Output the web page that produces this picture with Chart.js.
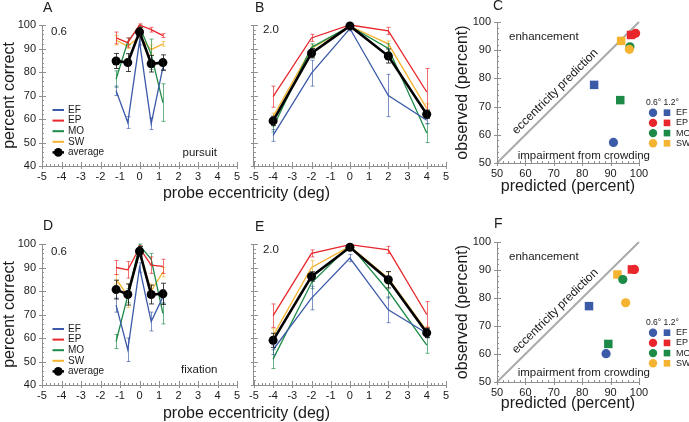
<!DOCTYPE html>
<html>
<head>
<meta charset="utf-8">
<script src="https://cdn.jsdelivr.net/npm/chart.js@4.4.1/dist/chart.umd.min.js"></script>
<style>
  html, body { margin: 0; padding: 0; background: #fff; }
  body { width: 689px; height: 422px; position: relative; overflow: hidden; font-family: "Liberation Sans", Arial, sans-serif; }
  canvas { position: absolute; }
  .xtitle { position: absolute; font-size: 16px; line-height: 16px; white-space: nowrap; transform: translate(-50%, -50%); color: #1a1a1a; }
</style>
</head>
<body>
<canvas id="a" width="245" height="203" style="left:0;top:0"></canvas>
<canvas id="b" width="208" height="203" style="left:245px;top:0"></canvas>
<canvas id="c" width="236" height="203" style="left:453px;top:0"></canvas>
<canvas id="d" width="245" height="212" style="left:0;top:210px"></canvas>
<canvas id="e" width="208" height="212" style="left:245px;top:210px"></canvas>
<canvas id="f" width="236" height="212" style="left:453px;top:210px"></canvas>
<div class="xtitle" style="left:246.5px;top:193px">probe eccentricity (deg)</div>
<div class="xtitle" style="left:246.5px;top:413px">probe eccentricity (deg)</div>
<script>
const FONT = '"Liberation Sans", Arial, Helvetica, sans-serif'
const AXIS = '#8f8f8f'
const INK = '#1a1a1a'

const subjects = ['EF', 'EP', 'MO', 'SW']
const colors = ['#3b5aa8', '#e8262b', '#1e8a48', '#f5b332']
const nearX = [-1.2, -0.6, 0, 0.6, 1.2]
const farX = [-4, -2, 0, 2, 4]

// A: pursuit, 0.6 deg spacing
const pursuitNear = [
  [72, 58.5, 93, 58, 82],
  [94.5, 92.5, 100, 98, 95.5],
  [77, 93, 99.5, 87.5, 67],
  [93.5, 91, 95, 89.5, 92]
]
const pursuitNearErr = [
  [2, 2.5, 1.5, 2.5, 1],
  [2.5, 2, 0.5, 1, 0.8],
  [3.5, 1.5, 0.5, 6.5, 8],
  [2, 1, 1, 2, 1]
]
const pursuitNearAvg = [84.7, 84, 97, 83.5, 84]
const pursuitNearAvgErr = [3.2, 3.8, 2, 3.5, 3.3]

// B: pursuit, 2.0 deg spacing
const pursuitFar = [
  [53, 79.5, 98.5, 70, 59.5],
  [69.5, 94.5, 100, 97.5, 71.5],
  [56.5, 90.5, 99.5, 90, 54],
  [61, 90, 99.5, 92, 64.5]
]
const pursuitFarErr = [
  [2.5, 5.5, 1, 9, 1.5],
  [4.5, 1.5, 0.5, 1.5, 10],
  [2, 1.5, 0.5, 2, 4],
  [1.5, 1.5, 0.5, 1.2, 2]
]
const pursuitFarAvg = [59.2, 88, 99.6, 86.8, 62]
const pursuitFarAvgErr = [2, 2, 0.5, 3, 1.8]

// D: fixation, 0.6 deg spacing
const fixationNear = [
  [74, 55, 90, 67, 77.5],
  [90, 89, 98.3, 91, 90.5],
  [58.5, 78, 99.5, 93.5, 70.5],
  [85, 78, 97, 80, 88]
]
const fixationNearErr = [
  [3, 5, 2, 4, 3],
  [3, 3.5, 1, 3.5, 3],
  [3, 3, 0.5, 2.5, 4.5],
  [2, 5, 1, 3, 2]
]
const fixationNearAvg = [80.6, 78.5, 96.9, 78.5, 78.8]
const fixationNearAvgErr = [4, 4.5, 2, 4, 4.5]

// E: fixation, 2.0 deg spacing
const fixationFar = [
  [55, 77, 94, 72, 62],
  [69.5, 96, 99.7, 97.5, 70],
  [51, 83.5, 99.5, 80, 57],
  [61, 90, 99, 85.5, 63]
]
const fixationFarErr = [
  [2, 5, 1.5, 5.5, 2],
  [5, 1.5, 0.3, 1.5, 5.5],
  [4, 2.5, 0.5, 3, 3.5],
  [3, 3, 0.5, 2.5, 2]
]
const fixationFarAvg = [59, 86.2, 98.6, 84.8, 62.2]
const fixationFarAvgErr = [3, 2, 1, 3.5, 2]

// C / F: predicted vs observed, per subject (EF, EP, MO, SW)
const pursuitPred06 = [91, 98.8, 96.8, 96.6]
const pursuitObs06 = [57.3, 96, 91.2, 90.3]
const pursuitPred12 = [84.2, 97.2, 93.4, 93.7]
const pursuitObs12 = [77.7, 95.4, 72.3, 93.3]
const fixationPred06 = [88.4, 98.4, 94.3, 95.3]
const fixationObs06 = [60.1, 90.2, 86.6, 78.3]
const fixationPred12 = [82.4, 97.5, 89.2, 92.4]
const fixationObs12 = [77.1, 90.2, 63.6, 88.4]
const identity = [50, 100]

const errorBars = {
  id: 'errorBars',
  afterDatasetDraw(chart, { index, meta }) {
    const ds = chart.data.datasets[index]
    if (!ds.err) return
    const { ctx, scales: { y } } = chart
    ctx.save()
    ctx.strokeStyle = ds.errColor
    ctx.lineWidth = 1
    meta.data.forEach((pt, i) => {
      const v = ds.data[i].y, e = ds.err[i], c = ds.cap
      const top = y.getPixelForValue(v + e), bot = y.getPixelForValue(v - e)
      const px = Math.round(pt.x) + 0.5
      ctx.beginPath()
      ctx.moveTo(px, top); ctx.lineTo(px, bot)
      ctx.moveTo(px - c, top); ctx.lineTo(px + c, top)
      ctx.moveTo(px - c, bot); ctx.lineTo(px + c, bot)
      ctx.stroke()
    })
    ctx.restore()
  }
}

const axisTicks = {
  id: 'axisTicks',
  afterDraw(chart, args, o) {
    const { ctx, scales: { x, y } } = chart
    ctx.save()
    ctx.strokeStyle = AXIS
    ctx.lineWidth = 1
    ctx.beginPath()
    const nx = Math.round((x.max - x.min) / o.xMinor), rx = Math.round(o.xMajor / o.xMinor)
    for (let i = 0; i <= nx; i++) {
      const px = Math.round(x.getPixelForValue(x.min + i * o.xMinor)) + 0.5
      const major = i % rx === 0
      ctx.moveTo(px, y.bottom + (major ? 3 : 0))
      ctx.lineTo(px, y.bottom - (major ? 4 : 2))
    }
    const ny = Math.round((y.max - y.min) / o.yMinor), ry = Math.round(o.yMajor / o.yMinor)
    for (let i = 0; i <= ny; i++) {
      const py = Math.round(y.getPixelForValue(y.min + i * o.yMinor)) + 0.5
      const major = i % ry === 0
      ctx.moveTo(x.left - (major ? 3 : 0), py)
      ctx.lineTo(x.left + (major ? 4 : 2), py)
    }
    ctx.stroke()
    ctx.restore()
  }
}

const notes = {
  id: 'notes',
  afterDraw(chart, args, o) {
    const { ctx, chartArea: a, scales: { x, y } } = chart
    ;(o.items || []).forEach(n => {
      const px = n.data ? x.getPixelForValue(n.data[0]) : a.left + n.x
      const py = n.data ? y.getPixelForValue(n.data[1]) : a.top + n.y
      ctx.save()
      ctx.translate(px, py)
      if (n.along) {
        const dx = x.getPixelForValue(identity[1]) - x.getPixelForValue(identity[0])
        const dy = y.getPixelForValue(identity[1]) - y.getPixelForValue(identity[0])
        ctx.rotate(Math.atan2(dy, dx))
      }
      ctx.font = (n.size || 11.5) + 'px ' + FONT
      ctx.fillStyle = INK
      ctx.textAlign = n.align || 'left'
      ctx.textBaseline = 'middle'
      ctx.fillText(n.t, 0, 0)
      ctx.restore()
    })
  }
}

const lineLegend = {
  id: 'lineLegend',
  afterDraw(chart, args, o) {
    if (!o.show) return
    const { ctx, chartArea: a } = chart
    const x0 = a.left + 10.5, x1 = a.left + 22, tx = a.left + 26
    ctx.save()
    ctx.font = '10px ' + FONT
    ctx.textBaseline = 'middle'
    ctx.fillStyle = INK
    const rows = subjects.map((s, k) => ({ s, c: colors[k] })).concat([{ s: 'average', c: '#000', dot: true }])
    rows.forEach((r, k) => {
      const yy = a.top + 85 + k * 10.6
      ctx.strokeStyle = r.c
      ctx.lineWidth = r.dot ? 2.5 : 2
      ctx.beginPath(); ctx.moveTo(x0, yy); ctx.lineTo(x1, yy); ctx.stroke()
      if (r.dot) {
        ctx.fillStyle = '#000'
        ctx.beginPath(); ctx.arc((x0 + x1) / 2, yy, 4.3, 0, Math.PI * 2); ctx.fill()
      }
      ctx.fillStyle = INK
      ctx.fillText(r.s, tx, yy)
    })
    ctx.restore()
  }
}

const markerLegend = {
  id: 'markerLegend',
  afterDraw(chart) {
    const { ctx, chartArea: a } = chart
    const cx = a.right + 14, sx = a.right + 28, tx = a.right + 37
    ctx.save()
    ctx.fillStyle = INK
    ctx.textBaseline = 'middle'
    ctx.font = '8.5px ' + FONT
    ctx.fillText('0.6\u00b0 1.2\u00b0', a.right + 7, a.top + 81)
    ctx.font = '9px ' + FONT
    subjects.forEach((s, k) => {
      const yy = a.top + 90.7 + k * 10.2
      ctx.fillStyle = colors[k]
      ctx.beginPath(); ctx.arc(cx, yy, 4.2, 0, Math.PI * 2); ctx.fill()
      ctx.fillRect(sx - 3.3, yy - 3.3, 6.6, 6.6)
      ctx.fillStyle = INK
      ctx.fillText(s, tx, yy)
    })
    ctx.restore()
  }
}

const tickFont = { family: FONT, size: 11 }
const titleFont = { family: FONT, size: 16 }

function lineChart(id, xs, series, errs, avg, avgErr, showY, top, items) {
  const datasets = [{
    label: 'average',
    data: xs.map((x, i) => ({ x, y: avg[i] })),
    err: avgErr, errColor: 'rgba(20,20,20,0.8)', cap: 2.5,
    borderColor: '#000', backgroundColor: '#000',
    borderWidth: 2.6, pointRadius: 4.5, pointBorderWidth: 0, clip: false
  }]
  series.forEach((s, k) => datasets.push({
    label: subjects[k],
    data: xs.map((x, i) => ({ x, y: s[i] })),
    err: errs[k], errColor: colors[k] + 'a8', cap: 2,
    borderColor: colors[k], borderWidth: 1.3, pointRadius: 0, clip: false
  }))
  return new Chart(document.getElementById(id), {
    type: 'line',
    data: { datasets },
    plugins: [errorBars, axisTicks, notes, lineLegend],
    options: {
      responsive: false, animation: false,
      layout: { padding: { left: 0, top, right: showY ? 8 : 7, bottom: 0 } },
      scales: {
        x: {
          type: 'linear', min: -5, max: 5,
          ticks: { stepSize: 1, padding: 4, color: INK, font: tickFont },
          grid: { display: false, drawTicks: false },
          border: { color: AXIS },
          afterFit: s => { s.height = 37 }
        },
        y: {
          type: 'linear', min: 40, max: 100,
          ticks: { display: showY, stepSize: 10, padding: 6, color: INK, font: tickFont },
          grid: { display: false, drawTicks: false },
          border: { color: AXIS },
          title: { display: showY, text: 'percent correct', color: INK, font: titleFont, padding: 0 },
          afterFit: s => { s.width = showY ? 42 : 6 }
        }
      },
      plugins: {
        legend: { display: false }, tooltip: { enabled: false },
        axisTicks: { xMinor: 0.2, xMajor: 1, yMinor: 2, yMajor: 10 },
        notes: { items },
        lineLegend: { show: showY }
      }
    }
  })
}

function scatterChart(id, p06, o06, p12, o12, top, titlePad, items) {
  return new Chart(document.getElementById(id), {
    type: 'scatter',
    data: {
      datasets: [
        {
          label: '0.6\u00b0', data: p06.map((x, i) => ({ x, y: o06[i] })),
          pointStyle: 'circle', pointRadius: 4.6, pointBorderWidth: 0,
          backgroundColor: colors, borderColor: colors, clip: false
        },
        {
          label: '1.2\u00b0', data: p12.map((x, i) => ({ x, y: o12[i] })),
          pointStyle: 'rect', pointRadius: 6, pointBorderWidth: 0,
          backgroundColor: colors, borderColor: colors, clip: false
        },
        {
          type: 'line', label: 'eccentricity prediction',
          data: identity.map(v => ({ x: v, y: v })),
          borderColor: '#aaaaaa', borderWidth: 2, pointRadius: 0, clip: false
        }
      ]
    },
    plugins: [axisTicks, notes, markerLegend],
    options: {
      responsive: false, animation: false,
      layout: { padding: { left: 0, top, right: 50, bottom: 0 } },
      scales: {
        x: {
          type: 'linear', min: 50, max: 100,
          ticks: { stepSize: 10, padding: 4, color: INK, font: tickFont },
          grid: { display: false, drawTicks: false },
          border: { color: AXIS },
          title: { display: true, text: 'predicted (percent)', color: INK, font: titleFont, padding: { top: 0, bottom: titlePad } },
          afterFit: s => { s.height = 40 }
        },
        y: {
          type: 'linear', min: 50, max: 100,
          ticks: { stepSize: 10, padding: 6, color: INK, font: tickFont },
          grid: { display: false, drawTicks: false },
          border: { color: AXIS },
          title: { display: true, text: 'observed (percent)', color: INK, font: titleFont, padding: 0 },
          afterFit: s => { s.width = 44 }
        }
      },
      plugins: {
        legend: { display: false }, tooltip: { enabled: false },
        axisTicks: { xMinor: 2, xMajor: 10, yMinor: 2, yMajor: 10 },
        notes: { items }
      }
    }
  })
}

lineChart('a', nearX, pursuitNear, pursuitNearErr, pursuitNearAvg, pursuitNearAvgErr, true, 25, [
  { t: 'A', x: 1, y: -17, size: 14 },
  { t: '0.6', x: 9, y: 7 },
  { t: 'pursuit', x: 140.5, y: 128 }
])
lineChart('b', farX, pursuitFar, pursuitFarErr, pursuitFarAvg, pursuitFarAvgErr, false, 25, [
  { t: 'B', x: 1, y: -17, size: 14 },
  { t: '2.0', x: 9, y: 5.3 }
])
scatterChart('c', pursuitPred06, pursuitObs06, pursuitPred12, pursuitObs12, 22, 7, [
  { t: 'C', x: -4, y: -15.7, size: 14 },
  { t: 'enhancement', x: 12, y: 15.3 },
  { t: 'impairment from crowding', x: 20.7, y: 134 },
  { t: 'eccentricity prediction', data: [70.5, 75.3], along: true, align: 'center', size: 12 }
])
lineChart('d', nearX, fixationNear, fixationNearErr, fixationNearAvg, fixationNearAvgErr, true, 34, [
  { t: 'D', x: 1, y: -17.7, size: 14 },
  { t: '0.6', x: 9, y: 8 },
  { t: 'fixation', x: 139, y: 125.5 }
])
lineChart('e', farX, fixationFar, fixationFarErr, fixationFarAvg, fixationFarAvgErr, false, 34, [
  { t: 'E', x: 1, y: -17.3, size: 14 },
  { t: '2.0', x: 9, y: 5.7 }
])
scatterChart('f', fixationPred06, fixationObs06, fixationPred12, fixationObs12, 32, 9, [
  { t: 'F', x: -3, y: -17.7, size: 14 },
  { t: 'enhancement', x: 12, y: 14.7 },
  { t: 'impairment from crowding', x: 20.7, y: 131.3 },
  { t: 'eccentricity prediction', data: [70.5, 75.3], along: true, align: 'center', size: 12 }
])
</script>
</body>
</html>
